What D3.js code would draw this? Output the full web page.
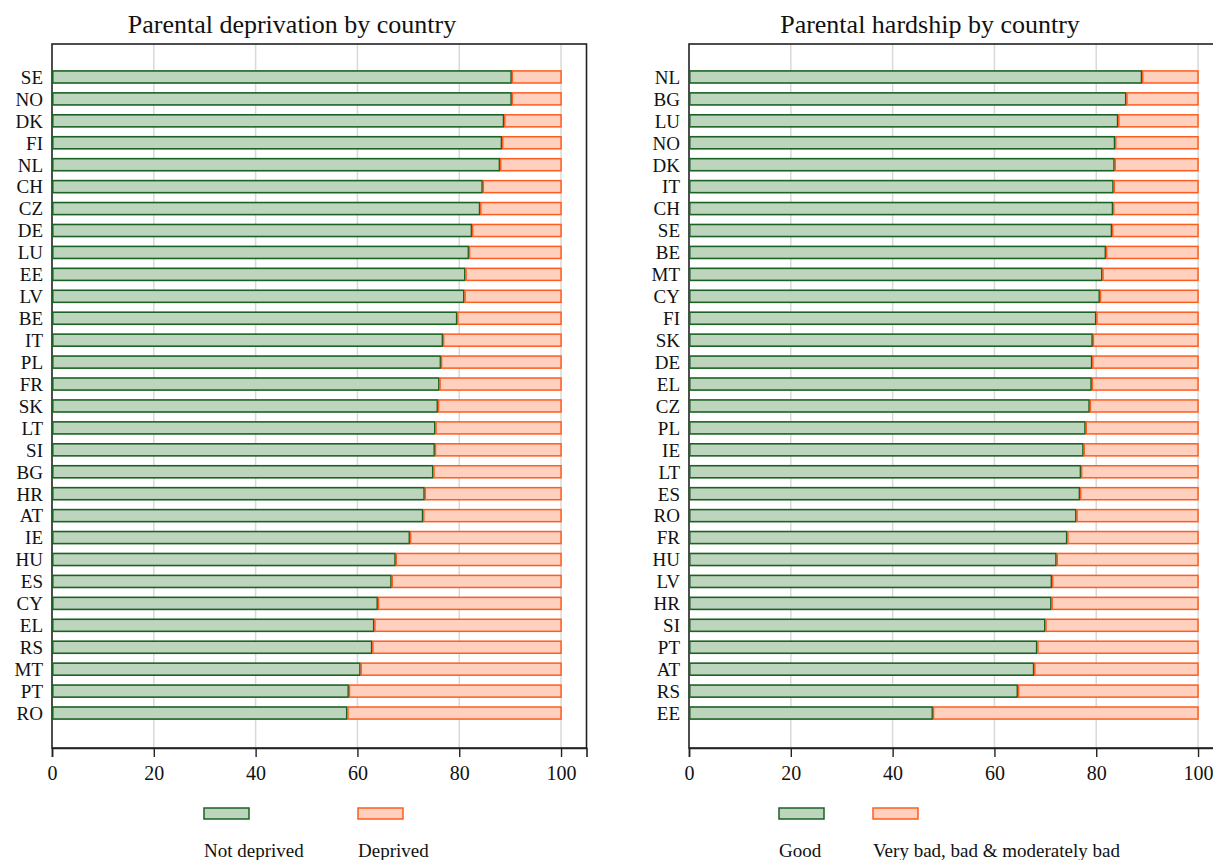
<!DOCTYPE html>
<html><head><meta charset="utf-8">
<script src="https://cdn.jsdelivr.net/npm/d3@7"></script>
<style>
html,body{margin:0;padding:0;background:#fff;}
svg{display:block;font-family:"Liberation Serif","DejaVu Serif",serif;}
</style></head>
<body><svg id="chart" width="1213" height="860"></svg>
<script>
// ---- data ----
const depCountries = ["SE","NO","DK","FI","NL","CH","CZ","DE","LU","EE","LV","BE","IT","PL","FR","SK","LT","SI","BG","HR","AT","IE","HU","ES","CY","EL","RS","MT","PT","RO"];
const depNotDeprived = [90.2,90.2,88.7,88.3,87.9,84.5,84.0,82.4,81.8,81.1,80.9,79.5,76.7,76.3,76.0,75.7,75.2,75.1,74.8,73.1,72.8,70.2,67.4,66.6,63.9,63.2,62.8,60.5,58.2,57.9];
const depDeprived = [9.8,9.8,11.3,11.7,12.1,15.5,16.0,17.6,18.2,18.9,19.1,20.5,23.3,23.7,24.0,24.3,24.8,24.9,25.2,26.9,27.2,29.8,32.6,33.4,36.1,36.8,37.2,39.5,41.8,42.1];

const hardCountries = ["NL","BG","LU","NO","DK","IT","CH","SE","BE","MT","CY","FI","SK","DE","EL","CZ","PL","IE","LT","ES","RO","FR","HU","LV","HR","SI","PT","AT","RS","EE"];
const hardGood = [88.9,85.8,84.2,83.6,83.5,83.3,83.2,83.0,81.8,81.1,80.6,79.9,79.2,79.1,79.0,78.6,77.8,77.4,76.9,76.7,76.0,74.2,72.1,71.2,71.1,69.9,68.3,67.7,64.5,47.8];
const hardBad = [11.1,14.2,15.8,16.4,16.5,16.7,16.8,17.0,18.2,18.9,19.4,20.1,20.8,20.9,21.0,21.4,22.2,22.6,23.1,23.3,24.0,25.8,27.9,28.8,28.9,30.1,31.7,32.3,35.5,52.2];

const xTicks = [0,20,40,60,80,100];

const colors = {
  greenFill:"#bdd4bd", greenStroke:"#1b6324",
  orangeFill:"#ffd0bd", orangeStroke:"#ff5c1f"
};

const svg = d3.select("#chart");

function panel(opts){
  const g = svg.append("g");
  const x = d3.scaleLinear().domain([0,105]).range([opts.left, opts.left + 534.5]);
  const top = 44, bottom = 748;
  const y = d3.scaleBand().domain(opts.cats).range([66, 724]).paddingInner(0.45).paddingOuter(0.225);

  // gridlines
  g.append("g").selectAll("line").data(xTicks.slice(1)).join("line")
    .attr("x1", d=>x(d)).attr("x2", d=>x(d)).attr("y1", top).attr("y2", bottom)
    .attr("stroke", "#d9d9d9").attr("stroke-width", 1.5);

  // frame
  g.append("rect").attr("x", x(0)).attr("y", top)
    .attr("width", x(105)-x(0)).attr("height", bottom-top)
    .attr("fill","none").attr("stroke","#222").attr("stroke-width",1.6);

  const rows = opts.cats.map((c,i)=>({c, a:opts.s1[i], b:opts.s2[i]}));
  g.append("g").selectAll("rect").data(rows).join("rect")
    .attr("x", d=>x(0)+0.75).attr("y", d=>y(d.c))
    .attr("width", d=>x(d.a)-x(0)-0.75).attr("height", y.bandwidth())
    .attr("fill", colors.greenFill).attr("stroke", colors.greenStroke).attr("stroke-width",1.6);
  g.append("g").selectAll("rect").data(rows).join("rect")
    .attr("x", d=>x(d.a)+1.2).attr("y", d=>y(d.c))
    .attr("width", d=>x(d.a+d.b)-x(d.a)-1.2).attr("height", y.bandwidth())
    .attr("fill", colors.orangeFill).attr("stroke", colors.orangeStroke).attr("stroke-width",1.5);

  // category labels
  g.append("g").selectAll("text").data(opts.cats).join("text")
    .attr("x", x(0)-9).attr("y", d=>y(d)+y.bandwidth()/2)
    .attr("dy","0.36em").attr("text-anchor","end")
    .attr("font-size",19).attr("fill","#111").text(d=>d);

  // x axis
  const ax = d3.axisBottom(x).tickValues(xTicks).tickSize(9).tickPadding(9).tickFormat(d3.format("d"));
  const axg = g.append("g").attr("transform",`translate(0,${bottom})`).call(ax);
  axg.select(".domain").attr("stroke","#222").attr("stroke-width",1.6);
  axg.selectAll(".tick line").attr("stroke","#222").attr("stroke-width",1.4);
  axg.selectAll(".tick text").attr("font-size",20).attr("fill","#111")
    .attr("font-family","Liberation Serif, DejaVu Serif, serif");

  // title
  g.append("text").attr("x", opts.titleX).attr("y", 33).attr("text-anchor","middle")
    .attr("font-size",26).attr("fill","#111").text(opts.title);

  // legend
  opts.legend.forEach((L,i)=>{
    g.append("rect").attr("x",L.x).attr("y",808).attr("width",45).attr("height",11)
      .attr("fill", i===0?colors.greenFill:colors.orangeFill)
      .attr("stroke", i===0?colors.greenStroke:colors.orangeStroke).attr("stroke-width",1.5);
    g.append("text").attr("x",L.x).attr("y",857).attr("font-size",19).attr("fill","#111").text(L.label);
  });
}

panel({left:52, cats:depCountries, s1:depNotDeprived, s2:depDeprived,
  title:"Parental deprivation by country", titleX:292,
  legend:[{x:204,label:"Not deprived"},{x:358,label:"Deprived"}]});
panel({left:689, cats:hardCountries, s1:hardGood, s2:hardBad,
  title:"Parental hardship by country", titleX:930,
  legend:[{x:779,label:"Good"},{x:873,label:"Very bad, bad & moderately bad"}]});
</script></body></html>
